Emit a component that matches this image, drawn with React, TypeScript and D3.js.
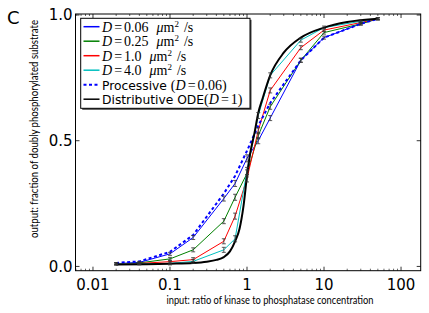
import React from "react";
import * as d3 from "d3";

// sampled x values (ratio kinase / phosphatase)
const xs = [0.02, 0.04, 0.1, 0.2, 0.5, 0.7, 1, 1.4, 2, 5, 10, 30, 50];

const d006 = [0.011, 0.016, 0.05, 0.115, 0.27, 0.33, 0.43, 0.5, 0.59, 0.82, 0.91, 0.965, 0.985];
const d025 = [0.01, 0.014, 0.03, 0.066, 0.18, 0.275, 0.37, 0.52, 0.635, 0.82, 0.93, 0.965, 0.985];
const d10 = [0.01, 0.012, 0.019, 0.027, 0.1, 0.2, 0.35, 0.54, 0.7, 0.87, 0.94, 0.97, 0.985];
const d40 = [0.01, 0.01, 0.012, 0.02, 0.066, 0.11, 0.38, 0.6, 0.76, 0.9, 0.95, 0.975, 0.985];
const proc = [0.014, 0.02, 0.058, 0.125, 0.29, 0.36, 0.46, 0.56, 0.65, 0.82, 0.91, 0.965, 0.985];
const errs = [0.004, 0.004, 0.006, 0.008, 0.01, 0.012, 0.014, 0.012, 0.01, 0.008, 0.006, 0.005, 0.004];

// ODE curve samples
const odeX = [0.02, 0.05, 0.1, 0.2, 0.3, 0.4, 0.5, 0.6, 0.7, 0.8, 0.9, 1.0, 1.1, 1.25, 1.4, 1.6, 2, 3, 5, 10, 20, 50];
const odeY = [0.008, 0.009, 0.011, 0.014, 0.019, 0.026, 0.037, 0.06, 0.1, 0.15, 0.24, 0.36, 0.45, 0.53, 0.61, 0.67, 0.76, 0.85, 0.91, 0.95, 0.972, 0.985];

const xTicks = [0.01, 0.1, 1, 10, 100];
const xTickLabels = ["0.01", "0.1", "1", "10", "100"];
const yTicks = [0, 0.5, 1];
const yTickLabels = ["0.0", "0.5", "1.0"];

const series = [
  { vals: d006, color: "#0000ff", D: "0.06" },
  { vals: d025, color: "#008000", D: "0.25" },
  { vals: d10, color: "#ff0000", D: "1.0" },
  { vals: d40, color: "#00bfbf", D: "4.0" },
];

const L = 75.5, R = 420.7, T = 14, B = 270.7;

export default function App() {
  const x = d3.scaleLog().domain([0.00593, 180]).range([L, R]);
  const y = d3.scaleLinear().domain([-0.017, 1.004]).range([B, T]);

  const line = d3.line<[number, number]>().x(d => x(d[0])).y(d => y(d[1]));
  const smooth = d3.line<[number, number]>().x(d => x(d[0])).y(d => y(d[1])).curve(d3.curveMonotoneX);

  const minor: number[] = [];
  for (let e = -3; e <= 2; e++) {
    for (let m = 2; m <= 9; m++) {
      const v = m * Math.pow(10, e);
      if (v > 0.00593 && v < 180) minor.push(v);
    }
  }

  const sans = "DejaVu Sans, sans-serif";
  const serif = "Liberation Serif, DejaVu Serif, serif";
  const lab = "Lato, Open Sans, sans-serif";

  const legendRows = [0, 1, 2, 3, 4, 5].map(i => 26.7 + i * 14.5);

  return (
    <svg width={429} height={313} style={{ position: "absolute", left: 0, top: 0, background: "#fff" }}>
      <text x={7} y={24} fontFamily={sans} fontSize={18}>C</text>

      {/* lines */}
      {series.map((s, i) => (
        <path key={i} d={line(xs.map((v, j) => [v, s.vals[j]]))!} fill="none" stroke={s.color} strokeWidth={1} />
      ))}
      <path d={line(xs.map((v, j) => [v, proc[j]]))!} fill="none" stroke="#0000ff" strokeWidth={2} strokeDasharray="3,2.5" />
      <path d={smooth(odeX.map((v, j) => [v, odeY[j]]))!} fill="none" stroke="#000" strokeWidth={2} />

      {/* error bars */}
      {series.map((s, i) => (
        <g key={i} stroke="#333" strokeWidth={0.8}>
          {xs.map((v, j) => {
            const cx = x(v);
            const y0 = y(s.vals[j] - errs[j]);
            const y1 = y(s.vals[j] + errs[j]);
            return (
              <g key={j}>
                <line x1={cx} x2={cx} y1={y0} y2={y1} />
                <line x1={cx - 2} x2={cx + 2} y1={y0} y2={y0} />
                <line x1={cx - 2} x2={cx + 2} y1={y1} y2={y1} />
              </g>
            );
          })}
        </g>
      ))}

      {/* frame */}
      <rect x={L} y={T} width={R - L} height={B - T} fill="none" stroke="#000" strokeWidth={1} />

      {/* x ticks */}
      {xTicks.map(v => (
        <g key={v} stroke="#000" strokeWidth={0.8}>
          <line x1={x(v)} x2={x(v)} y1={B} y2={B - 4} />
          <line x1={x(v)} x2={x(v)} y1={T} y2={T + 4} />
        </g>
      ))}
      {minor.map(v => (
        <g key={v} stroke="#000" strokeWidth={0.6}>
          <line x1={x(v)} x2={x(v)} y1={B} y2={B - 2} />
          <line x1={x(v)} x2={x(v)} y1={T} y2={T + 2} />
        </g>
      ))}
      {xTicks.map((v, i) => (
        <text key={v} x={x(v)} y={B + 19} textAnchor="middle" fontFamily={sans} fontSize={15}>{xTickLabels[i]}</text>
      ))}

      {/* y ticks */}
      {yTicks.map((v, i) => (
        <g key={v}>
          <line x1={L} x2={L + 4} y1={y(v)} y2={y(v)} stroke="#000" strokeWidth={0.8} />
          <line x1={R} x2={R - 4} y1={y(v)} y2={y(v)} stroke="#000" strokeWidth={0.8} />
          <text x={L - 3} y={y(v)} dy="0.36em" textAnchor="end" fontFamily={sans} fontSize={15}>{yTickLabels[i]}</text>
        </g>
      ))}

      {/* axis labels */}
      <text x={270} y={304} textAnchor="middle" fontFamily={lab} fontSize={10.5}
        textLength={207} lengthAdjust="spacingAndGlyphs">
        input: ratio of kinase to phosphatase concentration
      </text>
      <text transform="translate(37.5,129) rotate(-90)" textAnchor="middle" fontFamily={lab} fontSize={10.5}
        textLength={218} lengthAdjust="spacingAndGlyphs">
        output: fraction of doubly phosphorylated substrate
      </text>

      {/* legend */}
      <rect x={82.2} y={19.8} width={169.3} height={90} fill="#444" />
      <rect x={80.7} y={18.3} width={169.3} height={90} fill="#fff" stroke="#000" strokeWidth={1} />
      {series.map((s, i) => (
        <g key={i}>
          <line x1={83.5} x2={99.5} y1={legendRows[i]} y2={legendRows[i]} stroke={s.color} strokeWidth={1.5} />
          <text x={102} y={legendRows[i]} dy="0.35em" fontFamily={serif} fontSize={14}>
            <tspan fontStyle="italic">D</tspan>
            <tspan dx={2}>=</tspan>
            <tspan dx={2}>{s.D}</tspan>
            <tspan dx={8} fontStyle="italic">μ</tspan>
            <tspan>m</tspan>
            <tspan fontSize={9} dy={-5}>2</tspan>
            <tspan dx={5} dy={5}>/s</tspan>
          </text>
        </g>
      ))}
      <line x1={83.5} x2={99.5} y1={legendRows[4]} y2={legendRows[4]} stroke="#0000ff" strokeWidth={2} strokeDasharray="3,2.5" />
      <text x={102} y={legendRows[4]} dy="0.35em" fontSize={14}>
        <tspan fontFamily={sans} fontSize={12.3}>Processive </tspan>
        <tspan fontFamily={serif}>(</tspan>
        <tspan fontFamily={serif} fontStyle="italic">D</tspan>
        <tspan fontFamily={serif} dx={2}>=</tspan>
        <tspan fontFamily={serif} dx={2}>0.06)</tspan>
      </text>
      <line x1={83.5} x2={99.5} y1={legendRows[5]} y2={legendRows[5]} stroke="#000" strokeWidth={1.5} />
      <text x={102} y={legendRows[5]} dy="0.35em" fontSize={14}>
        <tspan fontFamily={sans} fontSize={12.3}>Distributive ODE</tspan>
        <tspan fontFamily={serif}>(</tspan>
        <tspan fontFamily={serif} fontStyle="italic">D</tspan>
        <tspan fontFamily={serif} dx={2}>=</tspan>
        <tspan fontFamily={serif} dx={2}>1)</tspan>
      </text>
    </svg>
  );
}
